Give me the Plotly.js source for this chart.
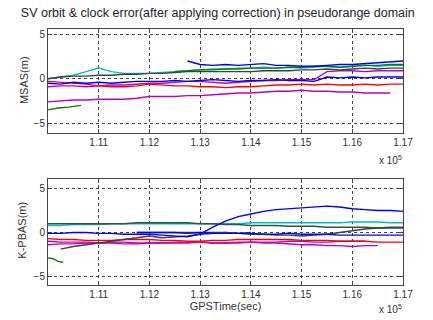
<!DOCTYPE html>
<html><head><meta charset="utf-8">
<script src="https://cdn.plot.ly/plotly-3.0.1.min.js"></script>
<style>html,body{margin:0;padding:0;background:#fff}#chart{width:433px;height:320px}</style>
</head><body><div id="chart"></div>
<script>
// GPS time samples (sec)
var t = [110000,110250,110500,110750,111000,111250,111500,111750,112000,112250,112500,112750,113000,113250,113500,113750,114000,114250,114500,114750,115000,115250,115500,115750,116000,116250,116500,116750,117000];
var xTickVals = [111000,112000,113000,114000,115000,116000,117000];
var xTickText = ["1.11","1.12","1.13","1.14","1.15","1.16","1.17"];
var yTickVals = [-5,0,5];

// MSAS panel (m)
var msasCyan = [0.0,0.2,0.4,0.8,1.2,0.8,0.6,0.6,0.6,0.7,0.8,0.9,1.0,1.1,1.1,1.2,1.2,1.3,1.2,1.3,1.2,1.3,1.4,1.3,1.4,1.5,1.4,1.5,1.5];
var msasBlack = [0.0,0.2,0.3,0.3,0.4,0.4,0.5,0.5,0.6,0.6,0.7,0.8,0.8,0.8,0.8,0.8,0.8,0.9,0.9,0.9,1.0,1.0,1.1,1.0,1.1,1.2,1.1,1.2,1.2];
var msasGreen = [null,null,null,null,null,null,null,null,null,null,0.8,0.9,1.0,1.0,1.1,1.1,1.2,1.2,1.2,1.3,1.3,1.4,1.4,1.3,1.4,1.5,1.5,1.6,1.6];
var msasBlueUp = [null,null,null,null,null,null,null,null,null,null,null,2.0,1.6,1.5,1.6,1.5,1.6,1.7,1.5,1.5,1.4,1.4,1.5,1.6,1.6,1.7,1.8,1.9,2.0];
var msasBlueLow = [-0.5,-0.6,-0.4,-0.5,-0.4,-0.5,-0.4,-0.3,-0.3,-0.3,-0.2,-0.3,-0.2,-0.1,-0.2,-0.3,-0.2,-0.2,-0.1,-0.2,-0.2,-0.3,0.2,0.1,0.2,0.1,0.2,0.2,0.2];
var msasRed = [-0.3,-0.4,-0.5,-0.6,-0.8,-0.9,-0.9,-0.8,-0.6,-0.7,-0.8,-0.8,-0.9,-0.9,-1.0,-0.9,-0.9,-0.8,-0.7,-0.7,-0.6,-0.7,-0.6,-0.7,-0.7,-0.6,-0.7,-0.6,-0.6];
var msasMagUp = [-0.9,-0.8,-0.8,-0.9,-0.8,-0.7,-0.7,-0.6,-0.5,-0.5,-0.4,-0.3,-0.3,-0.4,-0.5,-0.4,-0.3,-0.2,-0.2,-0.1,-0.1,-0.1,0.8,0.9,0.9,0.8,0.9,0.9,0.9];
var msasMagLow = [-2.6,-2.5,-2.4,-2.4,-2.3,-2.3,-2.3,-2.2,-2.0,-2.0,-2.0,-1.9,-1.9,-1.8,-1.7,-1.6,-1.6,-1.5,-1.4,-1.4,-1.3,-1.4,-1.4,-1.5,-1.5,-1.6,-1.6,-1.6,null];
var msasGreenShortT = [110000,110200,110400,110650];
var msasGreenShort = [-3.5,-3.3,-3.2,-3.0];

// K-PBAS panel (m)
var kDark = [1.0,1.0,1.0,1.0,1.0,1.0,1.0,1.1,1.1,1.1,1.1,1.1,1.0,1.0,0.9,0.9,0.8,0.8,0.8,0.7,0.7,0.7,0.6,0.6,0.6,0.6,0.5,0.5,0.5];
var kCyan = [0.8,0.8,0.9,0.9,0.9,1.0,1.0,1.0,1.0,1.0,1.0,1.0,1.0,1.0,1.0,1.0,1.1,1.1,1.1,1.1,1.1,1.1,1.1,1.1,1.2,1.2,1.2,1.1,1.1];
var kBlueRise = [-0.1,-0.1,0.0,0.0,-0.1,-0.1,-0.2,-0.2,-0.2,-0.3,-0.4,-0.5,-0.2,0.6,1.3,1.8,2.1,2.4,2.6,2.7,2.8,2.9,3.0,2.9,2.7,2.6,2.5,2.5,2.4];
var kBlueFlat = [null,null,null,null,null,null,null,0.0,0.0,0.0,0.0,-0.1,0.0,-0.1,-0.1,-0.1,-0.1,-0.2,-0.2,-0.1,-0.2,-0.2,-0.2,-0.3,-0.3,-0.3,-0.3,-0.3,-0.3];
var kBlack = [null,-1.9,-1.6,-1.4,-1.2,-1.0,-0.8,-0.6,-0.4,-0.6,-0.5,-0.4,-0.2,-0.1,0.0,-0.1,-0.2,-0.2,-0.3,-0.3,-0.4,-0.3,-0.2,0.0,0.2,0.4,0.5,0.6,0.6];
var kBlack2 = [null,null,null,null,null,null,null,0.0,0.0,0.0,0.0,0.0,0.0,0.0,0.0,-0.1,0.0,null,null,null,null,null,null,null,null,null,null,null,null];
var kRed = [-0.7,-0.8,-0.8,-0.9,-0.9,-0.9,-0.8,-0.8,-0.8,-0.9,-0.9,-1.0,-1.0,-0.9,-0.9,-0.8,-0.8,-0.8,-0.8,-0.8,-0.9,-0.9,-0.9,-1.0,-1.0,-1.0,-1.1,-1.1,-1.1];
var kMag = [-1.0,-1.1,-1.1,-1.1,-1.2,-1.1,-1.1,-1.2,-1.2,-1.2,-1.2,-1.2,-1.1,-1.2,-1.2,-1.1,-1.1,-1.2,-1.2,-1.3,-1.4,-1.4,-1.5,-1.5,-1.6,-1.5,-1.5,null,null];
var kMag2 = [-1.4,-1.3,-1.3,-1.2,-1.2,-1.2,-1.3,-1.3,-1.2,-1.2,-1.1,-1.1,-1.1,-1.2,-1.2,-1.2,-1.1,-1.1,-1.1,-1.0,-1.0,-1.1,-1.1,-1.0,-1.0,-1.0,null,null,null];
var kGreenShortT = [110000,110100,110200,110300];
var kGreenShort = [-2.9,-3.0,-3.3,-3.4];

var C = {blue:'#0000FF', green:'#008000', red:'#FF0000', cyan:'#00BFBF', mag:'#BF00BF', black:'#404040', dark:'#2F5050'};
function tr(x,y,c,ax){return {x:x,y:y,type:'scatter',mode:'lines',line:{color:c,width:1.4},xaxis:ax==2?'x2':'x',yaxis:ax==2?'y2':'y',showlegend:false,hoverinfo:'skip',connectgaps:false};}

var data = [
  tr(t,msasMagLow,C.mag,1), tr(t,msasMagUp,C.mag,1), tr(t,msasRed,C.red,1),
  tr(t,msasCyan,C.cyan,1), tr(t,msasGreen,C.green,1), tr(t,msasBlack,C.black,1),
  tr(t,msasBlueLow,C.blue,1), tr(t,msasBlueUp,C.blue,1), tr(msasGreenShortT,msasGreenShort,C.green,1),
  tr(t,kCyan,C.cyan,2), tr(t,kDark,C.dark,2), tr(t,kMag2,C.mag,2), tr(t,kMag,C.mag,2),
  tr(t,kRed,C.red,2), tr(t,kBlack2,C.black,2), tr(t,kBlack,C.black,2),
  tr(t,kBlueFlat,C.blue,2), tr(t,kBlueRise,C.blue,2), tr(kGreenShortT,kGreenShort,C.green,2)
];

var font = {family:'"Liberation Sans", Arial, sans-serif', size:10, color:'#333'};
function xa(anchor, title){
  var o = {anchor:anchor, range:[110000,117000], tickvals:xTickVals, ticktext:xTickText,
    showgrid:true, gridcolor:'#444', griddash:'dot', gridwidth:1, zeroline:false,
    showline:true, linecolor:'#444', linewidth:1, mirror:'ticks', ticks:'inside', ticklen:4, tickcolor:'#444',
    tickfont:{size:10,color:'#333'}, fixedrange:true};
  if (title) o.title = {text:title, font:{size:11,color:'#333'}, standoff:2};
  return o;
}
function ya(domain, range, anchor){
  return {domain:domain, anchor:anchor, range:range, tickvals:yTickVals,
    showgrid:true, gridcolor:'#444', griddash:'dot', gridwidth:1, zeroline:false,
    showline:true, linecolor:'#444', linewidth:1, mirror:'ticks', ticks:'inside', ticklen:4, tickcolor:'#444',
    tickfont:{size:10,color:'#333'}, fixedrange:true};
}
var layout = {
  width:433, height:320, paper_bgcolor:'#fff', plot_bgcolor:'#fff', font:font,
  margin:{l:48, r:30, t:29, b:35},
  title:{text:'SV orbit &amp; clock error(after applying correction) in pseudorange domain',
    font:{size:12.5,color:'#222'}, x:0.503, xanchor:'center', y:0.959, yanchor:'middle'},
  xaxis: xa('y', null),
  yaxis: ya([0.594,1], [-6.1,5.6], 'x'),
  xaxis2: xa('y2', 'GPSTime(sec)'),
  yaxis2: ya([0,0.414], [-6.0,6.1], 'x2'),
  annotations:[
    {xref:'paper', yref:'paper', x:-0.068, y:0.80, xanchor:'center', yanchor:'middle', showarrow:false,
     textangle:-90, text:'MSAS(m)', font:{size:11,color:'#333'}},
    {xref:'paper', yref:'paper', x:-0.074, y:0.215, xanchor:'center', yanchor:'middle', showarrow:false,
     textangle:-90, text:'K-PBAS(m)', font:{size:11,color:'#333'}},
    {xref:'paper', yref:'paper', x:0.965, y:0.49, xanchor:'center', yanchor:'middle', showarrow:false,
     text:'x 10<sup>5</sup>', font:{size:10,color:'#333'}},
    {xref:'paper', yref:'paper', x:0.965, y:-0.095, xanchor:'center', yanchor:'middle', showarrow:false,
     text:'x 10<sup>5</sup>', font:{size:10,color:'#333'}}
  ]
};
Plotly.newPlot('chart', data, layout, {displayModeBar:false, staticPlot:true});
</script></body></html>
